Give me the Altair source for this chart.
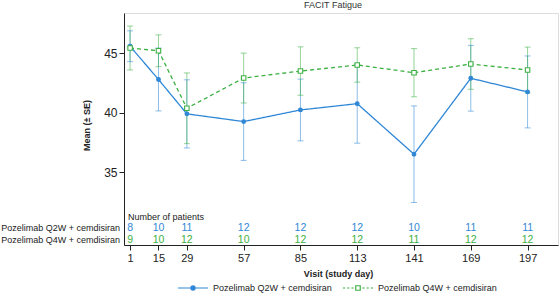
import altair as alt
import pandas as pd

# ---- data ----
days = [1, 15, 29, 57, 85, 113, 141, 169, 197]
series_names = ["Pozelimab Q2W + cemdisiran", "Pozelimab Q4W + cemdisiran"]
q2w_mean = [45.6, 42.8, 39.9, 39.25, 40.23, 40.76, 36.5, 42.9, 41.75]
q2w_se = [1.3, 2.65, 2.87, 3.27, 2.6, 3.33, 4.07, 2.77, 3.03]
q4w_mean = [45.45, 45.22, 40.37, 42.92, 43.51, 44.02, 43.37, 44.1, 43.6]
q4w_se = [1.85, 1.34, 2.98, 2.1, 2.04, 1.45, 2.03, 2.13, 1.93]
q2w_n = [8, 10, 11, 12, 12, 12, 10, 11, 11]
q4w_n = [9, 10, 12, 10, 12, 12, 11, 12, 12]
y_ticks = [35, 40, 45]

BLUE = "#2f87d6"
GREEN = "#3cb043"
FONT = "Liberation Sans"

rows = []
for s, means, ses, ns in [(series_names[0], q2w_mean, q2w_se, q2w_n),
                          (series_names[1], q4w_mean, q4w_se, q4w_n)]:
    for d, m, e, n in zip(days, means, ses, ns):
        rows.append({"day": d, "series": s, "mean": m, "lo": m - e, "hi": m + e, "n": str(n)})
df = pd.DataFrame(rows)

xscale = alt.Scale(domain=[-2, 212], nice=False, zero=False)
yscale = alt.Scale(domain=[28.85, 48.4], nice=False, zero=False)
cscale = alt.Scale(domain=series_names, range=[BLUE, GREEN])

xaxis = alt.Axis(values=days, title="Visit (study day)", grid=False, tickSize=5,
                 labelFontSize=11, labelPadding=2, titleFontSize=9, titleFontWeight="bold",
                 titleX=214, titleY=28, titleBaseline="middle", titleAlign="center",
                 domainColor="#222", tickColor="#222", labelColor="#222", titleColor="#222")
yaxis = alt.Axis(values=y_ticks, title="Mean (± SE)", grid=False, tickSize=5,
                 labelFontSize=12, labelPadding=2, titleFontSize=9, titleFontWeight="bold",
                 titleX=-38, titleY=112, titleAlign="center", titleBaseline="middle",
                 domainColor="#222", tickColor="#222", labelColor="#222", titleColor="#222")

base = alt.Chart(df)
X = alt.X("day:Q", scale=xscale, axis=xaxis)
NOLEG = dict(scale=cscale, legend=None)

circle = "M-0.14,0A0.14,0.14 0 1,0 0.14,0A0.14,0.14 0 1,0 -0.14,0Z"
q2w_sym = "M-1,0H1" + circle
q4w_sym = ("M-1,0H-0.85M-0.72,0H-0.57M-0.44,0H-0.29M0.29,0H0.44M0.57,0H0.72M0.85,0H1"
           "M-0.15,-0.15H0.15V0.15H-0.15Z")
legend = alt.Legend(
    title=None, orient="none", direction="horizontal", legendX=53, legendY=259,
    symbolSize=900, labelFontSize=9, labelColor="#222", labelOffset=4, columnPadding=8,
    symbolStrokeWidth=1.2,
)

err = base.mark_rule(strokeWidth=1, opacity=0.55).encode(
    x=X, y=alt.Y("lo:Q", scale=yscale, axis=yaxis), y2="hi:Q",
    color=alt.Color("series:N", **NOLEG))
cap_lo = base.mark_tick(orient="horizontal", size=6, thickness=1, opacity=0.55).encode(
    x="day:Q", y=alt.Y("lo:Q", scale=yscale), color=alt.Color("series:N", **NOLEG))
cap_hi = base.mark_tick(orient="horizontal", size=6, thickness=1, opacity=0.55).encode(
    x="day:Q", y=alt.Y("hi:Q", scale=yscale), color=alt.Color("series:N", **NOLEG))

lines = base.mark_line(strokeWidth=1.3).encode(
    x="day:Q", y=alt.Y("mean:Q", scale=yscale),
    color=alt.Color("series:N", **NOLEG),
    strokeDash=alt.StrokeDash("series:N", scale=alt.Scale(domain=series_names, range=[[1, 0], [4, 3]]), legend=None))

pts = base.mark_point(strokeWidth=1.1, opacity=1).encode(
    x="day:Q", y=alt.Y("mean:Q", scale=yscale),
    color=alt.Color("series:N", **NOLEG),
    size=alt.Size("series:N", scale=alt.Scale(domain=series_names, range=[14, 20]), legend=None),
    shape=alt.Shape("series:N", scale=alt.Scale(domain=series_names, range=["circle", "square"]), legend=None),
    fill=alt.Fill("series:N", scale=alt.Scale(domain=series_names, range=[BLUE, "#ffffff"]), legend=None))

# legend-only layer: points placed outside the clipped plot area, used for the legend symbols
leg_df = pd.DataFrame({"legend_series": series_names})
leg_layer = alt.Chart(leg_df).mark_point(size=900, strokeWidth=1.2, opacity=1, clip=True).encode(
    x=alt.value(-600), y=alt.value(-600),
    stroke=alt.Stroke("legend_series:N", scale=alt.Scale(domain=series_names, range=[BLUE, GREEN]), legend=legend),
    shape=alt.Shape("legend_series:N", scale=alt.Scale(domain=series_names, range=[q2w_sym, q4w_sym]), legend=legend),
    fill=alt.Fill("legend_series:N", scale=alt.Scale(domain=series_names, range=[BLUE, "#ffffff"]), legend=legend))

n_q2w = alt.Chart(df[df.series == series_names[0]]).mark_text(
    fontSize=10.5, baseline="middle", align="center", font=FONT).encode(
    x="day:Q", y=alt.value(214.5), text="n:N", color=alt.value(BLUE))
n_q4w = alt.Chart(df[df.series == series_names[1]]).mark_text(
    fontSize=10.5, baseline="middle", align="center", font=FONT).encode(
    x="day:Q", y=alt.value(226.5), text="n:N", color=alt.value(GREEN))

labels_df = pd.DataFrame({"label": ["Number of patients"]})
n_title = alt.Chart(labels_df).mark_text(
    fontSize=9, baseline="middle", align="left", font=FONT, color="#222").encode(
    x=alt.value(4), y=alt.value(203.5), text="label:N")

row_df = pd.DataFrame({"label": series_names, "ypix": [214.5, 226.5]})
row_labels = alt.Chart(row_df).mark_text(
    fontSize=9, baseline="middle", align="right", font=FONT, color="#222").encode(
    x=alt.value(-4), y=alt.Y("ypix:Q", scale=None), text="label:N")

title_df = pd.DataFrame({"t": ["FACIT Fatigue"]})
title = alt.Chart(title_df).mark_text(
    fontSize=9, baseline="middle", align="center", font=FONT, color="#333").encode(
    x=alt.value(209), y=alt.value(-8), text="t:N")

chart = alt.layer(err, cap_lo, cap_hi, lines, pts, leg_layer, n_q2w, n_q4w, n_title, row_labels, title).properties(
    width=434, height=232,
    autosize=alt.AutoSizeParams(type="none"),
    padding={"left": 124, "top": 13, "right": 2, "bottom": 48},
).resolve_scale(stroke="independent", shape="independent", fill="independent", size="independent"
).configure_view(stroke=None).configure(font=FONT)

chart.save("out.html", embed_options={"renderer": "svg", "actions": False})
